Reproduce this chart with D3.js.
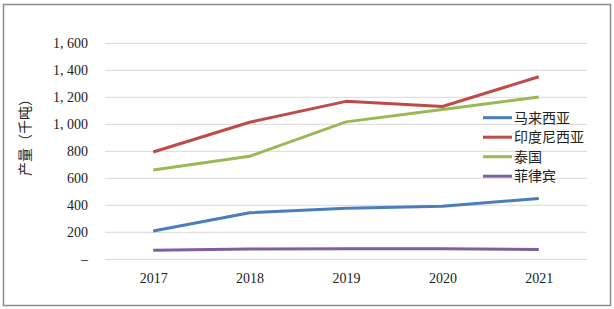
<!DOCTYPE html>
<html><head><meta charset="utf-8">
<script src="https://cdn.jsdelivr.net/npm/d3@7"></script>
<style>body{margin:0;background:#fff}</style>
</head><body>
<script>
const years = ["2017","2018","2019","2020","2021"];
const malaysia = [210, 345, 378, 393, 450];
const indonesia = [795, 1015, 1170, 1132, 1352];
const thailand = [662, 763, 1018, 1110, 1202];
const philippines = [67, 76, 78, 78, 73];
const seriesNames = ["马来西亚","印度尼西亚","泰国","菲律宾"];
const seriesColors = ["#4a7ebb","#be4b48","#98b954","#7d60a0"];
const yTicks = [0,200,400,600,800,1000,1200,1400,1600];

const series = [malaysia, indonesia, thailand, philippines].map((v,i)=>({name:seriesNames[i], color:seriesColors[i], values:v}));

const W=614,H=309;
const svg=d3.select("body").append("svg").attr("width",W).attr("height",H);
svg.append("rect").attr("x",3.5).attr("y",4.5).attr("width",607).attr("height",301)
  .attr("fill","#fff").attr("stroke","#8c8c8c").attr("stroke-width",1.5);

const x=d3.scalePoint().domain(years).range([105,587]).padding(0.5);
const y=d3.scaleLinear().domain([0,1600]).range([259.3,43.3]);

const grid=svg.append("g");
grid.selectAll("line").data(yTicks).join("line")
  .attr("x1",105).attr("x2",587).attr("y1",d=>y(d)).attr("y2",d=>y(d))
  .attr("stroke","#d9d9d9").attr("stroke-width",1);

const fmt=d=>d===0?"–":d3.format(",")(d).replace(",",", ");
const yAxis=d3.axisLeft(y).tickValues(yTicks).tickSize(0).tickPadding(0).tickFormat(fmt);
const ya=svg.append("g").attr("transform","translate(88,0)").call(yAxis);
ya.select(".domain").remove();
ya.selectAll("text").attr("font-family","Liberation Serif, DejaVu Serif, serif").attr("font-size",14).attr("fill","#222");

const xAxis=d3.axisBottom(x).tickSize(0).tickPadding(0);
const xa=svg.append("g").attr("transform","translate(0,273)").call(xAxis);
xa.select(".domain").remove();
xa.selectAll("text").attr("font-family","Liberation Serif, DejaVu Serif, serif").attr("font-size",14).attr("fill","#222");

svg.append("text").attr("transform","translate(30,134) rotate(-90)")
  .attr("text-anchor","middle").attr("font-family","Noto Sans CJK SC").attr("font-size",14).attr("fill","#222")
  .text("产量（千吨）");

const line=d3.line().x((d,i)=>x(years[i])).y(d=>y(d));
svg.append("g").selectAll("path").data(series).join("path")
  .attr("d",d=>line(d.values)).attr("fill","none").attr("stroke",d=>d.color)
  .attr("stroke-width",3).attr("stroke-linejoin","round");

const lg=svg.append("g").selectAll("g").data(series).join("g")
  .attr("transform",(d,i)=>`translate(483,${117.7+i*19.5})`);
lg.append("line").attr("x1",0).attr("x2",29).attr("stroke",d=>d.color).attr("stroke-width",3);
lg.append("text").attr("x",31).attr("dy","0.35em").attr("font-family","Noto Sans CJK SC").attr("font-size",14).attr("fill","#222").text(d=>d.name);
</script>
</body></html>
